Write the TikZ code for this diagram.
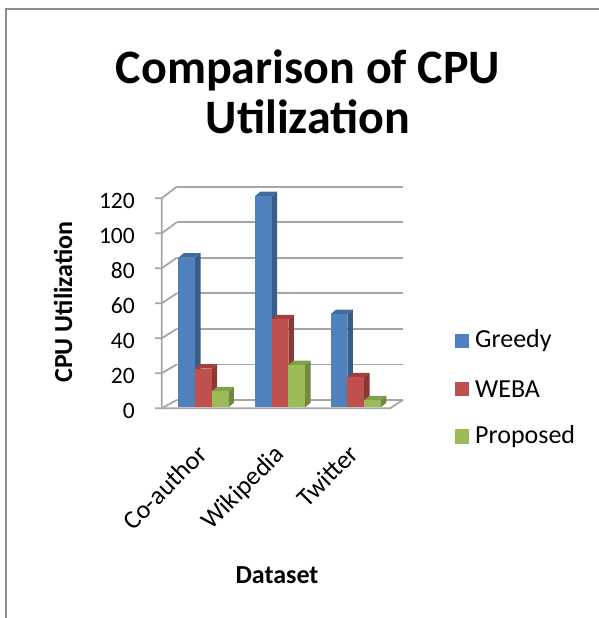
\documentclass[tikz,border=0pt]{standalone}
\usepackage{fontspec}
\setmainfont{Carlito}
\definecolor{bF}{HTML}{4F81BD}
\definecolor{bS}{HTML}{385D8A}
\definecolor{bT}{HTML}{3F6BA3}
\definecolor{rF}{HTML}{C0504D}
\definecolor{rS}{HTML}{8C3836}
\definecolor{rT}{HTML}{A3403D}
\definecolor{gF}{HTML}{9BBB59}
\definecolor{gS}{HTML}{71893F}
\definecolor{gT}{HTML}{839F48}
\definecolor{gridc}{HTML}{A6A6A6}
\tikzset{
  gridline/.style={draw=gridc, line width=1.8pt},
  ticklbl/.style={anchor=base east, inner sep=0pt, font=\fontsize{23.5}{27}\selectfont},
  catlbl/.style={anchor=north east, inner sep=0pt, rotate=45, font=\fontsize{26}{30}\selectfont},
  leglbl/.style={anchor=west, inner sep=0pt, font=\fontsize{26}{30}\selectfont},
  ttl/.style={inner sep=0pt, anchor=base, font=\fontsize{48}{52}\selectfont\bfseries},
  axttl/.style={inner sep=0pt, font=\fontsize{26}{30}\selectfont\bfseries},
}
\begin{document}
\begin{tikzpicture}[x=1pt,y=-1pt]
\useasboundingbox (0,0) rectangle (599,618);
% frame
\draw[draw=gray!90, line width=2pt] (599,9) -- (6,9) -- (6,618);
% title
\node[ttl] (t1) at (308,84) {Comparison of CPU};
\node[ttl] (t2) at (308,133) {Utilization};
% walls and grid
\foreach \v in {0,20,...,120}{
  \pgfmathsetmacro{\yf}{408.3-1.75*\v}
  \pgfmathsetmacro{\yb}{400-1.7775*\v}
  \draw[gridline] (176.7,\yb) -- (403,\yb);
  \draw[gridline] (155,\yf) -- (161.7,\yf) -- (176.7,\yb);
  \node[ticklbl] (tk\v) at (135,\yf+10) {\v};
}
\draw[gridline] (161.7,198.3) -- (161.7,408.3) -- (390,408.3) -- (403,400);
% bars
\foreach \gx/\va/\vb/\vc [count=\g] in {178.3/85/22/9, 255/120/50/24, 330.7/53/17/4}{
  \foreach \off/\val/\cf/\cs/\ct [count=\k] in {0/\va/bF/bS/bT, 16.7/\vb/rF/rS/rT, 33.4/\vc/gF/gS/gT}{
    \pgfmathsetmacro{\xl}{\gx+\off}
    \pgfmathsetmacro{\xr}{\gx+\off+16.7}
    \pgfmathsetmacro{\yt}{407.3-1.76*\val}
    \fill[\cs] (\xr,407.3) -- (\xr+5.5,402.8) -- (\xr+5.5,\yt-4.5) -- (\xr,\yt) -- cycle;
    \fill[\ct] (\xl,\yt) -- (\xl+5.5,\yt-4.5) -- (\xr+5.5,\yt-4.5) -- (\xr,\yt) -- cycle;
    \fill[\cf] (\xl,407.3) rectangle (\xr,\yt);
  }
}
% category labels
\node[catlbl] (c1) at (196,443) {Co-author};
\node[catlbl] (c2) at (273,443) {Wikipedia};
\node[catlbl] (c3) at (347,443) {Twitter};
% axis titles
\node[axttl, rotate=90] (ya) at (63,302) {CPU Utilization};
\node[axttl] (xa) at (277,575) {Dataset};
% legend
\fill[bF] (454.5,333.5) rectangle (469,347.8);
\fill[rF] (454.5,382) rectangle (469,396.2);
\fill[gF] (454.5,429.3) rectangle (469,443.5);
\node[leglbl] (l1) at (475,340.5) {Greedy};
\node[leglbl] (l2) at (475,389) {WEBA};
\node[leglbl] (l3) at (475,436.3) {Proposed};
\end{tikzpicture}
\end{document}
